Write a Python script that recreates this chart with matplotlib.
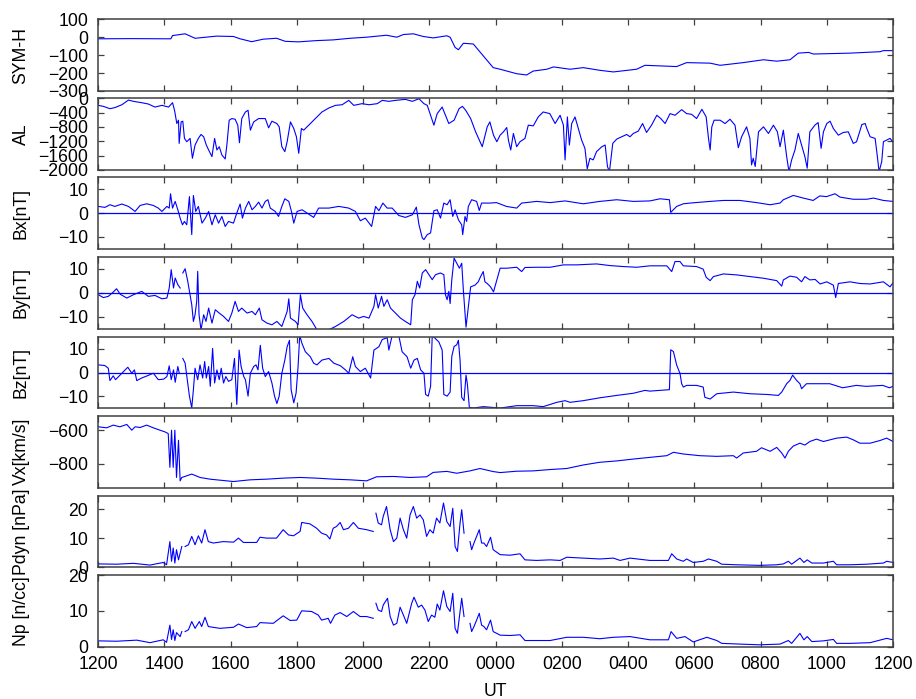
import numpy as np
import matplotlib
matplotlib.use("Agg")
import matplotlib.pyplot as plt

plt.rcParams['font.family'] = ['Liberation Sans', 'DejaVu Sans']
plt.rcParams['font.size'] = 12.7

nan = np.nan

# time axis: hours after 1200 UT
hour_ticks = [0, 2, 4, 6, 8, 10, 12, 14, 16, 18, 20, 22, 24]
hour_labels = ['1200', '1400', '1600', '1800', '2000', '2200', '0000',
               '0200', '0400', '0600', '0800', '1000', '1200']

symh_t = [0.0, 1.0, 2.2, 2.25, 2.63, 2.93, 3.58, 4.09, 4.29, 4.64, 4.99, 5.39, 5.65, 6.05, 6.6,
          7.1, 7.61, 8.11, 8.71, 9.02, 9.22, 9.52, 9.82, 10.12, 10.53, 10.63, 10.78, 10.88, 11.03,
          11.33, 11.63, 11.93, 12.14, 12.64, 12.94, 13.14, 13.55, 13.75, 14.25, 14.65, 15.15, 15.56,
          16.26, 16.51, 17.47, 17.77, 18.48, 18.78, 19.48, 20.09, 20.49, 20.89, 21.14, 21.45, 21.6,
          22.7, 23.61, 23.71, 24.0]
symh = [-9, -8, -9, 9, 19, -6, 6, 4, -9, -25, -11, -6, -23, -26, -19, -15, -6, 0, 11, 0, 15, 19,
        4, -4, 8, 0, -57, -70, -34, -38, -104, -170, -179, -204, -211, -189, -179, -166, -179,
        -170, -185, -194, -179, -157, -164, -142, -145, -157, -142, -126, -134, -126, -89, -85,
        -94, -89, -81, -75, -75]

al_t = [0.01, 0.16, 0.36, 0.51, 0.72, 0.92, 1.07, 1.32, 1.52, 1.72,
        1.93, 2.13, 2.25, 2.31, 2.38, 2.43, 2.45, 2.51, 2.56, 2.61,
        2.68, 2.78, 2.85, 2.93, 3.03, 3.11, 3.19, 3.27, 3.34, 3.44,
        3.52, 3.59, 3.66, 3.74, 3.84, 3.89, 3.96, 4.04, 4.14, 4.22,
        4.27, 4.34, 4.45, 4.53, 4.60, 4.70, 4.85, 5.05, 5.15, 5.25,
        5.40, 5.47, 5.55, 5.64, 5.71, 5.81, 5.91, 5.99, 6.06, 6.14,
        6.21, 6.36, 6.56, 6.76, 6.97, 7.17, 7.37, 7.57, 7.72, 7.97,
        8.18, 8.43, 8.58, 8.78, 8.98, 9.28, 9.49, 9.69, 9.84, 9.94,
        10.04, 10.14, 10.24, 10.39, 10.49, 10.59, 10.75, 10.90, 11.00, 11.10,
        11.25, 11.40, 11.60, 11.75, 11.83, 11.94, 12.04, 12.14, 12.24, 12.34,
        12.39, 12.46, 12.54, 12.64, 12.74, 12.89, 12.99, 13.14, 13.29, 13.44,
        13.64, 13.80, 13.95, 14.05, 14.10, 14.17, 14.23, 14.30, 14.40, 14.50,
        14.60, 14.70, 14.77, 14.85, 14.95, 15.05, 15.21, 15.31, 15.38, 15.44,
        15.54, 15.66, 15.81, 15.96, 16.06, 16.16, 16.31, 16.44, 16.56, 16.71,
        16.87, 16.99, 17.12, 17.27, 17.42, 17.62, 17.77, 17.92, 18.07, 18.23,
        18.36, 18.43, 18.48, 18.53, 18.60, 18.78, 18.93, 19.08, 19.23, 19.33,
        19.43, 19.58, 19.68, 19.73, 19.78, 19.84, 19.94, 20.09, 20.24, 20.39,
        20.51, 20.59, 20.69, 20.79, 20.86, 20.94, 21.04, 21.14, 21.24, 21.34,
        21.41, 21.49, 21.64, 21.74, 21.83, 21.90, 22.00, 22.10, 22.20, 22.35,
        22.50, 22.65, 22.80, 22.90, 23.06, 23.16, 23.21, 23.31, 23.46, 23.51,
        23.58, 23.66, 23.71, 23.81, 23.91, 23.99]
al = [-197, -225, -290, -260, -180, -50, -85, -123, -160, -245,
      -197, -245, -123, -335, -705, -612, -1260, -659, -640, -1120,
      -1213, -1120, -1675, -1306, -1120, -1010, -1075, -1306, -1444, -1630,
      -1120, -1444, -1352, -1583, -1694, -1306, -612, -566, -585, -751,
      -1241, -566, -382, -335, -890, -659, -566, -566, -825, -640,
      -705, -797, -1352, -1490, -1213, -659, -844, -1075, -1537, -844,
      -890, -751, -566, -382, -270, -197, -180, -58, -197, -150,
      -180, -150, -58, -85, -58, -30, -85, -12, -150, -197,
      -474, -751, -428, -245, -474, -705, -612, -290, -225, -335,
      -566, -936, -1352, -797, -659, -1030, -1213, -1030, -936, -816,
      -1167, -1444, -982, -1352, -1213, -1120, -751, -770, -520, -382,
      -428, -705, -474, -751, -1721, -520, -1306, -705, -520, -844,
      -1167, -1398, -1970, -1675, -1721, -1490, -1352, -1306, -1906, -2050,
      -1260, -1139, -1075, -1010, -1075, -982, -917, -705, -954, -751,
      -474, -566, -705, -428, -474, -317, -428, -447, -566, -307,
      -520, -1120, -1444, -797, -612, -612, -705, -585, -751, -1380,
      -1075, -797, -1120, -1860, -1675, -1906, -936, -797, -982, -751,
      -936, -1352, -890, -1630, -2050, -1721, -1444, -982, -1306, -1630,
      -1952, -936, -751, -678, -1398, -936, -705, -640, -844, -1030,
      -954, -936, -1260, -1213, -733, -705, -844, -1075, -1120, -1490,
      -2050, -1767, -1213, -1167, -1120, -1213]

bx_t = [0.01, 0.21, 0.36, 0.51, 0.72, 0.92, 1.12, 1.27, 1.47, 1.67,
        1.82, 1.93, 2.08, 2.15, 2.19, 2.25, 2.33, 2.41, 2.48, 2.55,
        2.61, 2.68, 2.76, 2.83, 2.88, 2.95, 3.03, 3.14, 3.24, 3.34,
        3.44, 3.54, 3.64, 3.74, 3.84, 3.94, 4.09, 4.19, 4.29, 4.36,
        4.45, 4.55, 4.65, 4.75, 4.85, 4.95, 5.05, 5.13, 5.20, 5.35,
        5.45, 5.55, 5.64, 5.76, 5.84, 5.91, 6.01, 6.16, 6.36, 6.51,
        6.66, 6.97, 7.27, 7.57, 7.77, 7.92, 8.07, 8.26, 8.38, 8.48,
        8.60, 8.73, 8.88, 9.08, 9.28, 9.49, 9.61, 9.69, 9.79, 9.84,
        9.94, 10.04, 10.14, 10.24, 10.34, 10.44, 10.54, 10.63, 10.71, 10.78,
        10.88, 10.98, 11.01, 11.08, 11.13, 11.18, 11.28, 11.43, 11.51, 11.58,
        11.83, 12.03, 12.33, 12.64, 12.79, 13.24, 13.65, 14.10, 14.65, 15.15,
        15.66, 16.16, 16.66, 16.97, 17.25, 17.29, 17.37, 17.47, 17.67, 17.87,
        18.48, 18.88, 19.38, 19.88, 20.29, 20.59, 20.69, 20.99, 21.29, 21.59,
        21.79, 21.99, 22.25, 22.40, 22.80, 23.21, 23.41, 23.71, 24.0]
bx = [2.8, 2.4, 3.5, 2.8, 3.8, 2.8, 0.7, 3.2, 3.9, 3.2,
      2.1, 0.7, 2.8, 2.1, 8.1, 2.1, 4.9, 1.4, -2.1, -4.9,
      -3.5, -4.9, 6.9, -9.0, 7.4, 0.7, 2.8, -4.2, -2.1, 0.7,
      -4.9, -0.7, -4.2, -1.4, -5.6, -3.5, -4.2, 0, 3.8, -2.1,
      2.1, 4.9, 1.4, 2.8, 4.6, 2.1, 4.9, 5.6, 2.1, 0.7,
      -1.4, 2.8, 6.0, 4.9, 0.7, -4.2, 0.7, 1.4, -0.4, -1.8,
      2.1, 2.1, 2.8, 2.1, 0.7, -3.2, -2.1, -5.6, 2.8, 1.0,
      4.2, 2.1, 2.1, -1.0, -1.8, -0.7, 2.5, -4.9, -10.4, -11.1,
      -9.0, -8.3, 1.0, 1.4, -2.1, 4.2, 3.5, 5.6, -1.4, 1.4,
      -2.8, -4.9, -9.0, -1.4, -3.5, 2.8, 5.6, 4.9, 1.1, 4.2,
      4.2, 4.4, 2.8, 2.1, 4.2, 4.9, 4.4, 5.1, 3.9, 4.9,
      5.6, 4.9, 5.1, 6.0, 5.6, 0.3, 1.4, 2.8, 3.9, 4.2,
      4.9, 5.3, 5.3, 4.4, 3.5, 4.2, 5.6, 7.4, 6.3, 5.3,
      7.2, 6.9, 8.1, 6.7, 5.8, 5.8, 6.3, 5.3, 4.9]

by_t = [0.01, 0.16, 0.31, 0.46, 0.56, 0.67, 0.87, 1.07, 1.32, 1.52,
        1.72, 1.93, 2.08, 2.15, 2.21, 2.28, 2.33, 2.41, 2.48, 2.52,
        2.56, 2.63, 2.71, 2.78, 2.83, 2.88, 2.93, 2.98, 3.01, 3.05,
        3.11, 3.19, 3.26, 3.34, 3.44, 3.54, 3.66, 3.79, 3.94, 4.04,
        4.14, 4.24, 4.34, 4.50, 4.65, 4.75, 4.87, 4.95, 5.10, 5.25,
        5.40, 5.55, 5.71, 5.76, 5.81, 5.96, 6.04, 6.11, 6.18, 6.31,
        6.46, 6.61, 6.97, 7.17, 7.42, 7.67, 7.87, 8.02, 8.18, 8.33,
        8.38, 8.46, 8.56, 8.63, 8.73, 8.83, 8.98, 9.13, 9.28, 9.44,
        9.49, 9.57, 9.64, 9.71, 9.79, 9.89, 9.99, 10.09, 10.19, 10.34,
        10.44, 10.49, 10.54, 10.59, 10.63, 10.68, 10.75, 10.83, 10.91, 10.98,
        11.03, 11.11, 11.18, 11.25, 11.38, 11.48, 11.55, 11.63, 11.68, 11.75,
        11.85, 11.94, 12.04, 12.14, 12.34, 12.64, 12.79, 12.89, 13.24, 13.65,
        14.05, 14.45, 15.05, 15.46, 15.86, 16.26, 16.66, 17.17, 17.32, 17.42,
        17.57, 17.67, 18.07, 18.27, 18.36, 18.48, 18.58, 18.88, 19.28, 19.68,
        20.09, 20.49, 20.64, 20.69, 20.89, 21.09, 21.24, 21.34, 21.49, 21.65,
        21.80, 22.00, 22.20, 22.27, 22.35, 22.70, 23.00, 23.31, 23.71, 23.91,
        24.0]
by = [-0.8, -2.0, -1.5, 0.3, 1.7, -0.6, -2.2, -0.8, 0.6, -1.5,
      -1.1, -2.5, -2.2, 2.0, 9.7, 2.0, 6.2, 3.4, 2.0, nan,
      8.3, 10.1, 4.8, -0.8, -5.0, -12.0, -9.2, -3.6, 9.0, -9.2,
      -15.5, -9.2, -12.0, -6.4, -12.7, -7.1, -8.5, -9.9, -12.0, -8.5,
      -3.6, -7.8, -6.4, -8.5, -7.8, -9.2, -6.4, -11.3, -12.7, -13.4,
      -12.0, -14.1, -7.8, -2.5, -10.6, -12.0, -13.4, -0.8, -6.4, -9.2,
      -12.0, -15.5, -15.5, -14.1, -12.0, -9.2, -10.6, -9.9, -10.6, -5.7,
      -0.8, -6.4, -1.5, -5.7, -2.9, -6.4, -8.5, -10.6, -12.0, -13.4,
      -2.9, -0.8, 4.8, 2.0, 8.3, 9.7, 7.6, 5.5, 7.6, 8.3,
      7.6, -0.8, -2.9, 0.6, -4.5, 5.4, 14.5, 12.4, 10.3, 12.4,
      1.1, -14.4, -5.9, 2.5, 3.2, 4.6, 6.8, 8.9, 4.6, 3.9,
      2.5, 0.4, 5.4, 10.3, 10.3, 10.7, 8.9, 10.6, 10.7, 10.7,
      11.7, 11.7, 12.1, 11.4, 11.0, 10.7, 11.3, 11.3, 8.9, 13.1,
      13.1, 11.3, 11.0, 9.9, 6.5, 5.1, 6.8, 7.9, 7.5, 6.8,
      6.1, 5.1, 2.8, 5.4, 7.0, 6.5, 4.6, 6.8, 5.4, 5.6,
      3.7, 4.6, 3.2, -2.0, 3.9, 4.6, 3.9, 3.7, 4.6, 2.5,
      4.2]

bz_t = [0.01, 0.21, 0.31, 0.36, 0.46, 0.53, 0.67, 0.82, 0.90, 1.02,
        1.10, 1.17, 1.32, 1.52, 1.67, 1.82, 1.98, 2.08, 2.15, 2.21,
        2.28, 2.33, 2.41, 2.45, 2.50, 2.56, 2.63, 2.71, 2.76, 2.83,
        2.88, 2.93, 3.01, 3.08, 3.16, 3.22, 3.27, 3.34, 3.39, 3.46,
        3.52, 3.59, 3.66, 3.72, 3.79, 3.86, 3.94, 4.04, 4.12, 4.19,
        4.26, 4.32, 4.40, 4.45, 4.53, 4.60, 4.70, 4.77, 4.83, 4.90,
        4.97, 5.05, 5.15, 5.25, 5.33, 5.40, 5.47, 5.55, 5.64, 5.71,
        5.78, 5.83, 5.91, 5.98, 6.04, 6.09, 6.16, 6.26, 6.41, 6.51,
        6.61, 6.76, 6.97, 7.12, 7.32, 7.47, 7.57, 7.69, 7.77, 7.92,
        8.07, 8.23, 8.33, 8.48, 8.58, 8.73, 8.78, 8.88, 9.08, 9.18,
        9.33, 9.44, 9.54, 9.64, 9.74, 9.84, 9.89, 9.97, 10.04, 10.09,
        10.29, 10.39, 10.44, 10.54, 10.63, 10.68, 10.75, 10.83, 10.88, 10.93,
        10.98, 11.05, 11.11, 11.15, 11.21, 11.33, 11.63, 12.14, 12.64, 13.14,
        13.44, 13.85, 14.10, 14.25, 14.65, 15.15, 15.66, 16.16, 16.51, 16.66,
        17.25, 17.29, 17.37, 17.47, 17.57, 17.62, 17.67, 17.77, 18.07, 18.27,
        18.32, 18.48, 18.68, 19.18, 19.68, 20.19, 20.54, 20.64, 20.79, 20.89,
        20.97, 21.09, 21.19, 21.24, 21.39, 21.69, 22.09, 22.48, 22.89, 23.19,
        23.69, 23.89, 24.0]
bz = [3.2, 2.9, 1.8, -3.4, -1.4, -3.0, -1.0, 1.1, 2.2, -0.3,
      1.1, -3.4, -2.3, -1.2, -0.3, -3.0, -2.8, -1.7, 2.8, -3.0,
      1.1, -4.1, 2.5, 0, nan, 5.9, 3.9, -4.4, -9.9, -14.8,
      -7.2, 1.8, -3.0, 3.2, -2.3, 4.6, -2.3, 2.5, -5.8, 10.1,
      -4.4, 1.1, -3.0, 1.8, -4.4, -1.7, -3.7, -3.0, 5.9, -13.4,
      9.4, 2.5, -1.7, -3.0, -9.9, -0.3, 2.5, 3.2, 1.1, 11.4,
      1.8, -1.7, 0.4, -4.4, -9.9, -13.0, -9.9, -0.3, 5.2, 10.8,
      13.5, -7.2, -12.7, -8.6, 2.5, 15.5, 12.1, 8.7, 6.6, 3.9,
      3.2, 5.2, 5.9, 3.9, 2.8, 1.1, -0.3, 6.6, 2.5, 0.4,
      1.8, -2.3, 9.4, 10.8, 13.8, 14.6, 9.4, 15.5, 15.5, 8.7,
      6.6, 1.8, 5.2, 5.9, 1.1, -0.3, -9.2, -9.9, -5.8, 15.5,
      12.8, 9.4, -9.2, -9.9, -8.2, 6.7, 10.9, 11.6, 13.5, 5.2,
      -10.4, -11.8, -1.1, -4.7, -14.6, -14.9, -14.3, -14.9, -13.9, -13.9,
      -14.3, -12.5, -11.8, -12.5, -11.8, -10.6, -9.6, -8.7, -7.5, -7.8,
      -7.2, 9.5, 8.8, 3.1, -0.4, -4.7, -6.1, -5.4, -5.4, -6.1,
      -10.4, -11.1, -8.9, -8.2, -8.9, -9.2, -9.6, -8.2, -4.7, -3.3,
      -1.1, -3.3, -4.7, -6.8, -4.7, -4.7, -4.7, -6.4, -5.4, -5.8,
      -5.4, -6.4, -5.8]

vx_t = [0.01, 0.26, 0.46, 0.66, 0.87, 1.02, 1.12, 1.27, 1.47, 1.67,
        1.87, 2.02, 2.12, 2.17, 2.22, 2.27, 2.32, 2.37, 2.43, 2.48,
        2.53, 2.68, 2.83, 3.08, 3.38, 3.68, 4.09, 4.59, 5.09, 5.59,
        6.10, 6.60, 7.10, 7.61, 8.11, 8.41, 8.92, 9.42, 9.92, 10.12,
        10.53, 10.83, 11.23, 11.53, 11.93, 12.14, 12.64, 13.14, 13.65, 14.15,
        14.65, 15.15, 15.66, 16.16, 16.66, 17.17, 17.37, 17.67, 18.17, 18.68,
        19.18, 19.28, 19.48, 19.88, 20.03, 20.29, 20.49, 20.64, 20.74, 20.84,
        20.99, 21.19, 21.34, 21.49, 21.69, 21.90, 22.10, 22.30, 22.60, 22.80,
        23.00, 23.31, 23.61, 23.81, 24.0]
vx = [-580, -586, -570, -580, -566, -600, -580, -584, -570, -586,
      -600, -610, -620, -820, -600, -820, -600, -880, -660, -900,
      -880, -870, -860, -880, -890, -896, -904, -894, -890, -884,
      -880, -884, -890, -894, -900, -876, -874, -880, -876, -850,
      -844, -855, -841, -827, -845, -851, -843, -841, -833, -827,
      -806, -790, -782, -771, -761, -751, -731, -741, -751, -755,
      -751, -765, -735, -725, -704, -725, -702, -735, -765, -725,
      -694, -677, -688, -667, -653, -667, -657, -647, -641, -657,
      -677, -677, -661, -647, -667]

pdyn_t = [0.01, 0.56, 1.07, 1.57, 1.97, 2.07, 2.17, 2.22, 2.27, 2.32,
          2.37, 2.43, 2.53, 2.58, 2.63, 2.73, 2.83, 2.93, 3.03, 3.13,
          3.23, 3.33, 3.48, 3.78, 4.09, 4.24, 4.39, 4.79, 4.89, 5.09,
          5.39, 5.59, 5.75, 5.90, 6.10, 6.15, 6.40, 6.60, 6.75, 6.90,
          7.00, 7.10, 7.20, 7.31, 7.41, 7.56, 7.71, 7.86, 8.11, 8.31,
          8.35, 8.39, 8.46, 8.56, 8.61, 8.71, 8.82, 8.92, 9.02, 9.12,
          9.22, 9.32, 9.42, 9.52, 9.62, 9.72, 9.82, 9.92, 10.02, 10.12,
          10.22, 10.32, 10.43, 10.53, 10.63, 10.71, 10.78, 10.85, 10.93, 10.98,
          11.05, 11.14, 11.23, 11.28, 11.35, 11.43, 11.51, 11.58, 11.65, 11.73,
          11.85, 11.93, 12.14, 12.44, 12.74, 12.89, 13.24, 13.65, 13.95, 14.15,
          14.65, 15.15, 15.56, 15.76, 16.06, 16.66, 17.22, 17.32, 17.47, 17.67,
          17.77, 17.97, 18.27, 18.43, 18.68, 18.83, 19.28, 19.98, 20.49, 20.69,
          20.84, 20.94, 21.19, 21.31, 21.41, 21.55, 21.90, 22.20, 22.30, 22.70,
          23.21, 23.71, 23.81, 24.0]
pdyn = [1.1, 1.0, 1.3, 0.7, 1.6, 0.8, 8.8, 2.0, 6.6, 1.4,
        6.0, 2.5, 7.1, nan, 7.1, 7.7, 10.6, 7.7, 10.8, 8.3,
        12.9, 8.8, 8.3, 8.8, 8.6, 10.0, 8.5, 8.5, 10.3, 10.0,
        10.0, 12.9, 11.1, 10.8, 12.3, 15.4, 14.9, 13.4, 11.7, 11.1,
        9.7, 13.4, 14.0, 15.4, 12.9, 13.4, 15.4, 13.4, 12.9, 12.3,
        nan, 18.6, 15.2, 14.6, 17.5, 20.9, 12.9, 8.8, 10.0, 16.9,
        12.9, 10.0, 18.0, 20.9, 16.9, 18.0, 16.3, 10.6, 12.9, 11.7,
        16.9, 15.2, 22.1, 15.7, 14.0, 20.3, 7.1, 5.4, 15.2, 19.8,
        11.7, nan, 8.8, 6.0, 8.3, 10.6, 12.9, 8.3, 8.3, 7.1,
        10.3, 6.0, 4.3, 4.1, 4.6, 2.5, 2.3, 2.5, 2.3, 3.4,
        3.1, 2.8, 3.1, 2.3, 3.1, 2.3, 2.3, 4.6, 2.8, 2.0,
        2.8, 1.6, 2.0, 2.8, 2.0, 1.0, 0.8, 0.6, 0.8, 1.1,
        2.0, 1.0, 3.1, 1.6, 2.5, 1.4, 1.4, 2.0, 0.8, 0.8,
        1.0, 1.4, 2.0, 1.6]

np_t = [0.01, 0.56, 1.17, 1.57, 1.97, 2.07, 2.17, 2.22, 2.27, 2.32,
        2.37, 2.48, 2.53, 2.58, 2.63, 2.73, 2.83, 2.93, 3.06, 3.13,
        3.23, 3.33, 3.68, 4.09, 4.24, 4.49, 4.79, 4.89, 5.29, 5.59,
        5.80, 6.00, 6.15, 6.45, 6.65, 6.75, 6.95, 7.02, 7.15, 7.31,
        7.51, 7.71, 7.91, 8.11, 8.31, 8.35, 8.39, 8.46, 8.56, 8.61,
        8.74, 8.82, 8.92, 9.02, 9.12, 9.22, 9.32, 9.47, 9.54, 9.67,
        9.77, 9.87, 9.97, 10.07, 10.17, 10.24, 10.32, 10.43, 10.53, 10.63,
        10.71, 10.78, 10.85, 10.93, 10.98, 11.05, 11.14, 11.23, 11.28, 11.35,
        11.43, 11.51, 11.58, 11.65, 11.73, 11.85, 11.93, 12.14, 12.44, 12.74,
        12.89, 13.65, 14.15, 14.65, 15.15, 15.56, 16.06, 16.66, 17.22, 17.30,
        17.47, 17.72, 17.97, 18.38, 18.68, 18.83, 19.38, 19.98, 20.59, 20.84,
        20.94, 21.19, 21.31, 21.41, 21.55, 21.90, 22.20, 22.30, 22.70, 23.31,
        23.81, 24.0]
np_cc = [1.6, 1.5, 1.8, 1.1, 1.9, 1.2, 6.0, 2.0, 4.7, 1.7,
         3.9, 2.8, 4.2, nan, 4.2, 4.7, 7.0, 5.1, 7.0, 5.6,
         8.2, 5.6, 5.1, 5.4, 6.3, 5.3, 5.6, 6.7, 6.5, 8.6,
         7.3, 7.4, 10.0, 9.8, 8.8, 7.4, 7.9, 6.5, 8.8, 9.5,
         8.4, 9.8, 8.4, 8.4, 7.9, nan, 12.1, 10.2, 9.8, 11.6,
         13.5, 8.4, 6.0, 6.5, 11.0, 8.8, 6.5, 12.1, 13.8, 11.0,
         11.6, 10.2, 7.0, 8.8, 8.2, 11.9, 10.2, 15.6, 11.2, 9.8,
         14.9, 5.1, 3.7, 9.8, 13.5, 8.4, nan, 6.5, 4.2, 5.6,
         7.4, 9.3, 6.0, 5.6, 4.7, 7.4, 4.2, 3.2, 3.1, 3.3,
         1.7, 1.7, 2.6, 2.6, 2.2, 2.6, 2.8, 1.9, 1.9, 4.2,
         2.3, 2.8, 1.3, 2.6, 1.7, 0.9, 0.7, 0.5, 0.7, 1.7,
         0.9, 3.7, 1.9, 2.8, 1.4, 1.6, 2.0, 0.9, 0.9, 1.1,
         2.3, 1.9]

panels = [
    (symh_t, symh, 'SYM-H', (-300, 100), [-300, -200, -100, 0, 100], False),
    (al_t, al, 'AL', (-2000, 0), [-2000, -1600, -1200, -800, -400, 0], False),
    (bx_t, bx, 'Bx[nT]', (-15, 15), [-10, 0, 10], True),
    (by_t, by, 'By[nT]', (-15, 15), [-10, 0, 10], True),
    (bz_t, bz, 'Bz[nT]', (-15, 15), [-10, 0, 10], True),
    (vx_t, vx, 'Vx[km/s]', (-940, -516), [-800, -600], False),
    (pdyn_t, pdyn, 'Pdyn [nPa]', (0, 24.7), [0, 10, 20], False),
    (np_t, np_cc, 'Np [n/cc]', (0, 20), [0, 10, 20], False),
]

W, H = 916, 699
fig = plt.figure(figsize=(W / 100, H / 100), dpi=100)

left_px, width_px = 98, 795
tops_px = [19.3, 98.3, 177.3, 257.0, 336.7, 416.0, 495.5, 575.0]
h_px = 71.6
frame = '#404040'
line_c = '#0000ff'

for i, (t, y, lab, ylim, yt, zero) in enumerate(panels):
    top = tops_px[i]
    ax = fig.add_axes([left_px / W, 1 - (top + h_px) / H, width_px / W, h_px / H])
    ax.plot(t, y, color=line_c, lw=0.8)
    if zero:
        ax.axhline(0, color=line_c, lw=0.9)
    ax.set_xlim(0, 24)
    ax.set_ylim(*ylim)
    ax.set_yticks(yt)
    ax.set_xticks(hour_ticks)
    ax.set_xticklabels(hour_labels)
    ax.tick_params(direction='in', top=True, right=True, length=4.3, width=0.9,
                   color=frame, pad=7, labelsize=12.7)
    ax.tick_params(axis='x', labelbottom=(i == len(panels) - 1), pad=6.5)
    for s in ax.spines.values():
        s.set_color(frame)
        s.set_linewidth(1.1)
    fig.text(21 / W, 1 - (top + h_px / 2) / H, lab, rotation=90,
             ha='center', va='center', fontsize=12.7)

fig.text(495.5 / W, 1 - 691 / H, 'UT', ha='center', va='center', fontsize=12.7)

fig.savefig('out.png', dpi=100)
